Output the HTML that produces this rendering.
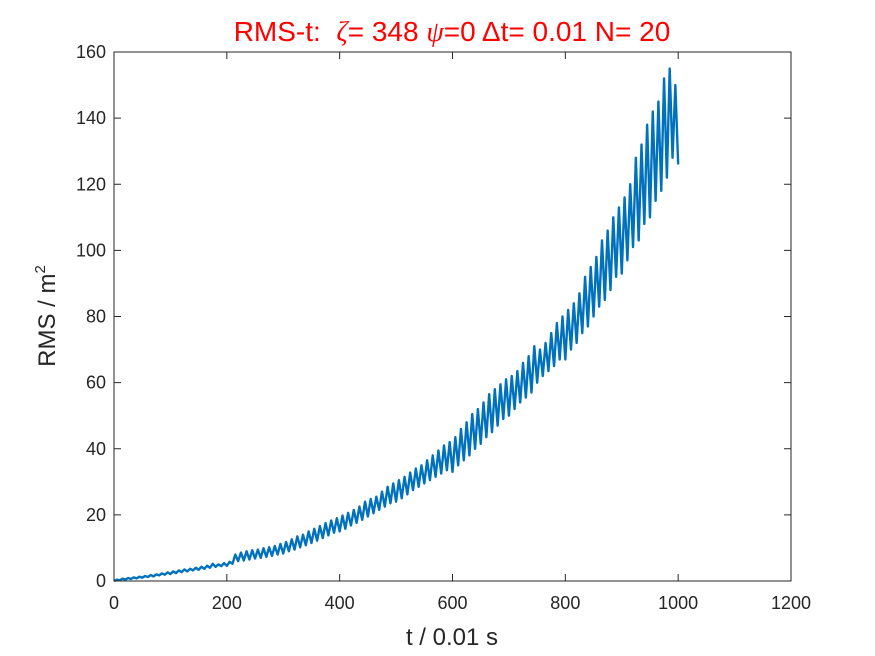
<!DOCTYPE html>
<html><head><meta charset="utf-8"><style>
html,body{margin:0;padding:0;background:#fff;}
svg{display:block;font-family:"Liberation Sans",Arial,sans-serif;}
</style></head><body>
<svg id="chart" width="875" height="656">
<text x="452" y="41" text-anchor="middle" font-size="28" fill="#ff0000" xml:space="preserve">RMS-t:  <tspan font-family="Liberation Serif,serif" font-style="italic">ζ</tspan>= 348 <tspan font-family="Liberation Serif,serif" font-style="italic">ψ</tspan>=0 Δt= 0.01 N= 20</text>
<g id="axes"></g>
<text x="452" y="645" text-anchor="middle" font-size="24" fill="#262626">t / 0.01 s</text>
<text transform="translate(55,316) rotate(-90)" text-anchor="middle" font-size="24" fill="#262626">RMS / m<tspan font-size="15" dy="-10">2</tspan></text>
</svg>
<script>
const xTicks=[0,200,400,600,800,1000,1200];
const yTicks=[0,20,40,60,80,100,120,140,160];
const tStep=5;
const rmsValues=[
0,0.4,0.2,0.7,0.4,0.9,0.6,1.1,0.8,1.3,1.0,1.5,1.2,1.8,1.4,2.0,1.7,2.3,1.9,2.6,
2.1,2.9,2.4,3.2,2.7,3.5,2.9,3.7,3.2,4.0,3.4,4.3,3.7,4.6,4.0,5.2,4.3,5.0,4.5,5.4,
4.6,5.8,5.2,8.0,6.0,8.6,6.2,9.0,6.5,9.3,6.8,9.5,7.0,9.9,7.3,10.2,7.6,10.6,8.0,11.2,
8.3,11.8,9.0,12.6,9.5,13.5,10.2,14.0,10.8,15.0,11.5,15.8,12.2,16.6,13.0,17.5,13.8,18.3,14.6,19.0,
15.0,19.8,15.8,20.6,16.8,21.5,17.6,22.5,18.5,24.0,19.5,24.8,20.5,25.5,21.5,27.0,22.5,28.5,23.5,29.5,
24.0,30.5,25.0,31.5,26.2,32.8,27.5,34.0,28.5,35.0,29.5,36.5,30.5,38.0,31.5,39.5,32.5,41.0,33.5,42.0,
33.0,43.5,35.0,46.0,36.5,48.0,38.0,50.5,40.0,52.0,41.5,54.0,43.5,56.5,45.0,58.0,47.0,59.5,49.0,61.0,
50.0,62.0,52.0,63.5,54.0,66.0,55.5,68.0,57.0,71.0,60.0,70.0,62.0,72.0,63.5,75.0,65.0,78.0,67.0,80.0,
67.0,82.0,70.0,84.0,72.0,87.0,75.0,92.0,77.0,95.0,80.0,98.0,83.0,103.0,85.0,106.0,88.0,110.0,92.0,113.0,
93.0,116.0,97.0,120.0,101.0,128.0,103.0,132.0,108.0,138.0,110.0,142.0,115.0,145.0,118.0,152.0,122.0,155.0,128.0,150.0,
126.0];
const L=114,R=791,T=52,B=581;
const xs=v=>L+(v/1200)*(R-L);
const ys=v=>B-(v/160)*(B-T);
const NS="http://www.w3.org/2000/svg";
const g=document.getElementById('axes');
function mk(tag,attrs,parent){const e=document.createElementNS(NS,tag);for(const k in attrs)e.setAttribute(k,attrs[k]);(parent||g).appendChild(e);return e;}
const box=mk('rect',{x:L,y:T,width:R-L,height:B-T,fill:'#fff',stroke:'#262626','stroke-width':1});


let d='';
rmsValues.forEach((v,i)=>{d+=(i?'L':'M')+xs(i*tStep).toFixed(2)+' '+ys(v).toFixed(2);});
const line=mk('path',{d:d,fill:'none',stroke:'#0072bd','stroke-width':2.4,'stroke-linejoin':'round'});


xTicks.forEach(t=>{
  const x=xs(t);
  mk('line',{x1:x,x2:x,y1:B,y2:B-7,stroke:'#262626'});
  mk('line',{x1:x,x2:x,y1:T,y2:T+7,stroke:'#262626'});
  const tx=mk('text',{x:x,y:B+28,'text-anchor':'middle','font-size':18,fill:'#262626'});
  tx.textContent=t;
  
  
});
yTicks.forEach(t=>{
  const y=ys(t);
  mk('line',{x1:L,x2:L+7,y1:y,y2:y,stroke:'#262626'});
  mk('line',{x1:R,x2:R-7,y1:y,y2:y,stroke:'#262626'});
  const tx=mk('text',{x:L-8,y:y+6,'text-anchor':'end','font-size':18,fill:'#262626'});
  tx.textContent=t;
  
  
});
</script>
</body></html>
